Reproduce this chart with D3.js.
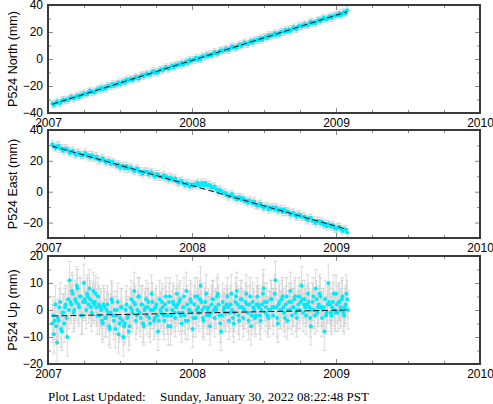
<!DOCTYPE html>
<html><head><meta charset="utf-8">
<script src="https://cdn.jsdelivr.net/npm/d3@7"></script>
<style>html,body{margin:0;padding:0;background:#fff;}svg{display:block;}</style>
</head><body>
<svg id="chart" width="493" height="404"></svg>
<script>
// ---- data ----
const xTickYears = [2007, 2008, 2009, 2010];
const sampleStartYear = 2007.03;
const horizIntervalDays = 4;   // north / east sampling
const upIntervalDays = 2;      // up sampling

const north = [
-33.0,-34.0,-32.6,-31.4,-32.4,-32.8,-30.7,-30.1,-30.9,-30.1,
-30.5,-29.1,-27.9,-28.9,-29.3,-27.7,-27.0,-28.3,-26.4,-26.7,
-25.3,-26.1,-26.3,-24.5,-23.4,-24.9,-24.0,-24.8,-22.9,-22.2,
-22.7,-21.1,-22.4,-21.1,-22.1,-19.9,-20.1,-20.4,-18.6,-19.9,
-18.6,-19.0,-17.2,-18.9,-17.3,-16.4,-17.5,-15.1,-16.2,-15.2,
-14.7,-15.7,-14.3,-13.1,-14.2,-14.5,-12.4,-11.9,-12.6,-11.8,
-10.7,-11.5,-11.6,-9.9,-8.8,-10.2,-9.4,-10.2,-8.2,-7.6,
-8.6,-7.1,-6.0,-7.0,-7.3,-5.8,-5.0,-6.3,-4.5,-4.7,
-3.9,-4.4,-2.6,-4.2,-2.7,-1.8,-2.9,-0.5,-1.6,-0.6,
-0.8,0.9,-0.5,0.8,-0.1,2.1,1.8,1.6,3.4,2.0,
3.6,2.6,4.0,5.2,4.1,3.8,5.9,6.4,5.7,6.5,
7.6,6.8,6.7,8.4,9.5,8.1,8.9,8.1,10.1,10.7,
9.7,11.2,12.3,11.3,11.0,12.5,13.3,12.0,13.8,13.6,
14.4,13.9,15.7,14.1,15.6,16.5,15.4,17.8,16.7,17.7,
17.5,19.2,17.8,19.1,18.2,20.3,20.1,19.9,21.6,20.3,
21.9,20.8,22.3,23.5,22.4,22.1,24.2,24.7,24.0,24.8,
25.9,25.1,25.0,26.7,27.8,26.4,27.2,26.4,28.4,29.0,
28.0,29.5,30.6,29.6,29.3,30.8,31.6,30.3,32.1,31.9,
32.6,32.2,34.0,32.3,33.9,34.8,33.7,36.1];

const east = [
30.7,29.2,28.4,29.5,30.0,27.9,28.1,26.6,27.9,27.9,
26.8,25.1,25.9,26.5,24.8,23.8,25.2,25.1,23.7,23.8,
24.0,25.1,23.1,23.7,22.1,23.6,22.7,21.8,22.9,21.0,
20.4,21.2,21.7,20.0,19.0,19.9,20.0,18.0,19.3,18.4,
17.8,16.7,17.8,15.5,16.4,16.6,15.0,16.7,14.9,15.3,
15.7,14.2,13.4,14.5,15.0,12.9,13.1,11.6,12.9,12.9,
12.9,11.2,12.0,12.6,10.9,9.9,11.3,11.2,9.8,9.9,
9.6,10.7,8.7,9.3,7.7,9.2,8.3,7.4,8.5,6.6,
5.8,6.6,7.1,5.4,4.4,5.3,5.4,3.4,4.7,3.8,
4.9,4.3,5.9,4.1,5.0,5.7,4.1,5.8,4.0,4.4,
4.2,2.5,3.1,3.3,1.4,0.2,1.1,0.7,-0.9,-1.0,
-0.8,-2.3,-3.1,-1.9,-1.5,-3.6,-3.4,-4.9,-3.6,-3.6,
-5.3,-4.3,-6.2,-5.6,-7.2,-5.7,-6.6,-7.5,-6.4,-8.4,
-9.1,-8.3,-7.8,-9.5,-10.5,-9.6,-9.5,-11.5,-10.2,-11.1,
-10.2,-11.3,-10.2,-12.5,-11.6,-11.4,-13.1,-11.3,-13.1,-12.7,
-13.2,-14.9,-14.1,-13.6,-15.3,-16.2,-14.8,-14.9,-16.3,-16.2,
-16.2,-17.7,-18.5,-17.3,-16.9,-19.0,-18.8,-20.3,-19.0,-19.0,
-20.5,-19.5,-21.4,-20.8,-22.4,-20.9,-21.8,-22.7,-21.6,-23.6,
-24.0,-23.2,-22.7,-24.4,-25.4,-24.5,-24.4,-26.4];

const up = [
-5,-2,-9,-4,2,-6,-12,-3,-4,1,3,-7,-8,-1,-1,-5,1,2,-3,-10,
4,0,11,3,2,7,6,-1,0,4,3,9,8,2,1,5,5,-2,-2,3,
10,4,3,0,6,5,2,8,4,1,-1,3,7,2,3,6,1,-2,5,2,
-2,1,0,-4,-5,2,1,-3,-3,0,2,-1,-6,-7,-1,4,3,-2,-4,0,
-7,-2,0,3,-9,-5,-3,1,1,-4,-10,-6,-5,0,2,-3,-2,-8,-6,1,
4,0,-1,3,7,2,-4,-2,0,5,5,-1,-3,2,2,-5,-6,0,1,4,
-2,1,3,-3,-5,0,6,3,0,-4,-3,1,2,-2,-8,-4,4,0,-1,3,
1,-2,-4,2,5,0,-2,-6,3,5,-6,-2,0,3,2,-1,-3,1,6,2,
-1,3,4,-2,-5,-1,1,5,-2,-4,7,2,-4,0,0,4,3,-1,-7,-3,
2,5,-3,0,5,1,-1,4,9,3,0,-3,-4,1,3,6,-2,0,1,-2,
-6,-1,2,4,4,0,-3,1,0,5,6,2,-2,-5,-8,-2,3,0,1,-1,
-1,2,5,1,-4,-1,2,6,0,-3,-5,-1,3,5,7,2,-2,-4,1,4,
4,1,-3,0,0,3,6,2,-1,-4,2,5,-6,-2,3,1,0,-3,-2,2,
5,2,1,-2,-4,0,2,6,8,3,-1,1,3,-2,-3,0,0,4,4,1,
-2,1,6,11,1,-3,-5,2,3,0,0,4,5,1,-1,-3,2,5,-4,0,
3,0,7,3,-2,1,1,4,5,-1,-3,0,2,5,0,3,9,4,-1,2,
4,1,-2,2,6,3,1,-3,-6,0,3,5,0,-2,8,4,-1,1,2,6,
5,1,-3,0,1,-8,4,-2,-1,2,10,3,2,-1,-2,1,3,6,0,-1,
6,2,-1,3,3,0,1,4,5,-1,-2,1,2,6,4,0];

const northSigma = 2.5, eastSigma = 2.5, upSigma = 7.0;
const northFit = [-33.5, 35.0];
const eastFit = [29.5, -24.4];
const upFit = [-2.2, 0.0];
const panelLabels = ["P524 North (mm)", "P524 East (mm)", "P524 Up (mm)"];
const footerLabel = "Plot Last Updated:";
const footerDate = "Sunday, January 30, 2022 08:22:48 PST";

// ---- layout ----
const svg = d3.select("#chart");
const left = 48, right = 480;
const x = d3.scaleLinear().domain([2007, 2010]).range([left, right]);
const horizTimes = north.map((_, i) => sampleStartYear + i * horizIntervalDays / 365.25);
const upTimes = up.map((_, i) => sampleStartYear + i * upIntervalDays / 365.25);

const panels = [
  {label: panelLabels[0], values: north, times: horizTimes, sigma: northSigma, fit: northFit, domain: [-40, 40], major: 20, minor: 10, top: 5, bottom: 113},
  {label: panelLabels[1], values: east, times: horizTimes, sigma: eastSigma, fit: eastFit, domain: [-30, 40], major: 20, minor: 10, top: 130, bottom: 238},
  {label: panelLabels[2], values: up, times: upTimes, sigma: upSigma, fit: upFit, domain: [-20, 20], major: 10, minor: 5, top: 256, bottom: 364}
];

const font = "'Liberation Sans', Arial, Helvetica, sans-serif";
const fontSize = "12px";
const tickColor = "#8a8a8a";

panels.forEach((p, pi) => {
  const y = d3.scaleLinear().domain(p.domain).range([p.bottom, p.top]);
  const g = svg.append("g");
  const clipId = "clip" + pi;
  svg.append("clipPath").attr("id", clipId).append("rect")
    .attr("x", left).attr("y", p.top).attr("width", right - left).attr("height", p.bottom - p.top);

  const data = p.values.map((v, i) => ({t: p.times[i], v}));
  const dg = g.append("g").attr("clip-path", `url(#${clipId})`);

  // error bars
  const eb = dg.append("g").attr("stroke", "#cdcdcd").attr("stroke-width", 0.7).attr("fill", "none");
  eb.selectAll("path").data(data).join("path")
    .attr("d", d => {
      const cx = x(d.t), y1 = y(d.v + p.sigma), y2 = y(d.v - p.sigma);
      return `M${cx},${y1}V${y2}M${cx-2},${y1}H${cx+2}M${cx-2},${y2}H${cx+2}`;
    });
  // points
  dg.append("g").selectAll("circle").data(data).join("circle")
    .attr("cx", d => x(d.t)).attr("cy", d => y(d.v)).attr("r", 2)
    .attr("fill", "#00eaff");
  // fit line
  const t0 = p.times[0], t1 = p.times[p.times.length - 1];
  dg.append("line")
    .attr("x1", x(t0)).attr("y1", y(p.fit[0])).attr("x2", x(t1)).attr("y2", y(p.fit[1]))
    .attr("stroke", "#111").attr("stroke-width", 1).attr("stroke-dasharray", "6,3");

  // ticks
  const yMinor = d3.range(p.domain[0], p.domain[1] + 0.001, p.minor).filter(v => v % p.major !== 0);
  const yMajor = d3.range(p.domain[0], p.domain[1] + 0.001, p.minor).filter(v => v % p.major === 0);
  const xMinor = d3.range(2007, 2010.001, 0.25).filter(v => Math.abs(v - Math.round(v)) > 0.01);

  const styleAxis = sel => {
    sel.select(".domain").remove();
    sel.selectAll(".tick line").attr("stroke", tickColor);
    sel.selectAll("text").attr("font-family", font).attr("font-size", fontSize).attr("fill", "#000");
  };

  g.append("g").attr("transform", `translate(${left},0)`)
    .call(d3.axisLeft(y).tickValues(yMajor).tickSize(-5).tickPadding(5)).call(styleAxis);
  g.append("g").attr("transform", `translate(${left},0)`)
    .call(d3.axisLeft(y).tickValues(yMinor).tickSize(-3).tickFormat("")).call(styleAxis);
  g.append("g").attr("transform", `translate(${right},0)`)
    .call(d3.axisRight(y).tickValues(yMajor).tickSize(-5).tickFormat("")).call(styleAxis);
  g.append("g").attr("transform", `translate(${right},0)`)
    .call(d3.axisRight(y).tickValues(yMinor).tickSize(-3).tickFormat("")).call(styleAxis);

  g.append("g").attr("transform", `translate(0,${p.bottom})`)
    .call(d3.axisBottom(x).tickValues(xTickYears).tickSize(-5).tickPadding(5).tickFormat(d3.format("d"))).call(styleAxis);
  g.append("g").attr("transform", `translate(0,${p.bottom})`)
    .call(d3.axisBottom(x).tickValues(xMinor).tickSize(-3).tickFormat("")).call(styleAxis);
  g.append("g").attr("transform", `translate(0,${p.top})`)
    .call(d3.axisTop(x).tickValues(xTickYears).tickSize(-5).tickFormat("")).call(styleAxis);
  g.append("g").attr("transform", `translate(0,${p.top})`)
    .call(d3.axisTop(x).tickValues(xMinor).tickSize(-3).tickFormat("")).call(styleAxis);

  // frame
  g.append("rect").attr("x", left).attr("y", p.top).attr("width", right - left).attr("height", p.bottom - p.top)
    .attr("fill", "none").attr("stroke", "#3a3a3a").attr("stroke-width", 2);

  // y title
  g.append("text")
    .attr("transform", `translate(17,${(p.top + p.bottom) / 2}) rotate(-90)`)
    .attr("text-anchor", "middle")
    .attr("font-family", font).attr("font-size", "12.5px").attr("fill", "#000")
    .text(p.label);
});

svg.append("text").attr("x", 48).attr("y", 401)
  .attr("font-family", "'Liberation Serif', 'Times New Roman', serif").attr("font-size", "13px").attr("fill", "#000")
  .text(footerLabel);
svg.append("text").attr("x", 160).attr("y", 401)
  .attr("font-family", "'Liberation Serif', 'Times New Roman', serif").attr("font-size", "13px").attr("fill", "#000")
  .text(footerDate);
</script>
</body></html>
